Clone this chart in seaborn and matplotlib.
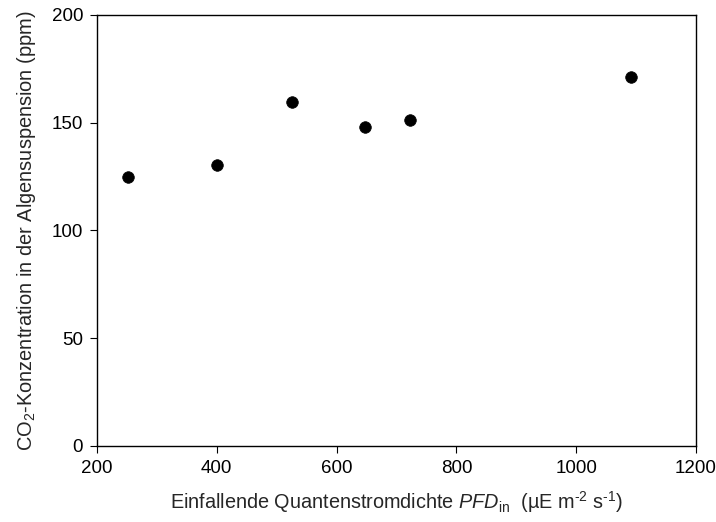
import matplotlib
matplotlib.use('Agg')
import matplotlib.pyplot as plt
import seaborn as sns
import pandas as pd

# Messwerte
pfd_in = [252, 400, 525, 648, 722, 1092]
co2_ppm = [124.8, 130.4, 159.6, 148.0, 151.3, 171.2]

sns.set_style('ticks')
plt.rcParams['font.family'] = ['Liberation Sans', 'DejaVu Sans']
plt.rcParams['mathtext.fontset'] = 'custom'
plt.rcParams['mathtext.rm'] = 'Liberation Sans'
plt.rcParams['mathtext.it'] = 'Liberation Sans:italic'

df = pd.DataFrame({'PFD': pfd_in, 'CO2': co2_ppm})

fig = plt.figure(figsize=(7.16, 5.22), dpi=100)
ax = fig.add_axes([97/716, 1 - 446/522, (696 - 97)/716, (446 - 15)/522])
sns.scatterplot(data=df, x='PFD', y='CO2', ax=ax, color='black', s=70,
                edgecolor='black', linewidth=0.5)

ax.set_xlim(200, 1200)
ax.set_ylim(0, 200)
ax.set_xticks([200, 400, 600, 800, 1000, 1200])
ax.set_yticks([0, 50, 100, 150, 200])
for sp in ax.spines.values():
    sp.set_visible(True)
    sp.set_linewidth(1.0)
    sp.set_color('black')
ax.tick_params(direction='out', length=5, width=0.8, labelsize=13.5, colors='black',
               top=False, right=False, pad=5)

ax.set_xlabel(r'Einfallende Quantenstromdichte $\it{PFD}_\mathrm{in}$  (µE m$^{\text{-}2}$ s$^{\text{-}1}$)',
              fontsize=14.3, labelpad=9)
ax.set_ylabel(r'CO$_2$-Konzentration in der Algensuspension (ppm)', fontsize=14.4, labelpad=10)

fig.savefig('out.png', dpi=100)
